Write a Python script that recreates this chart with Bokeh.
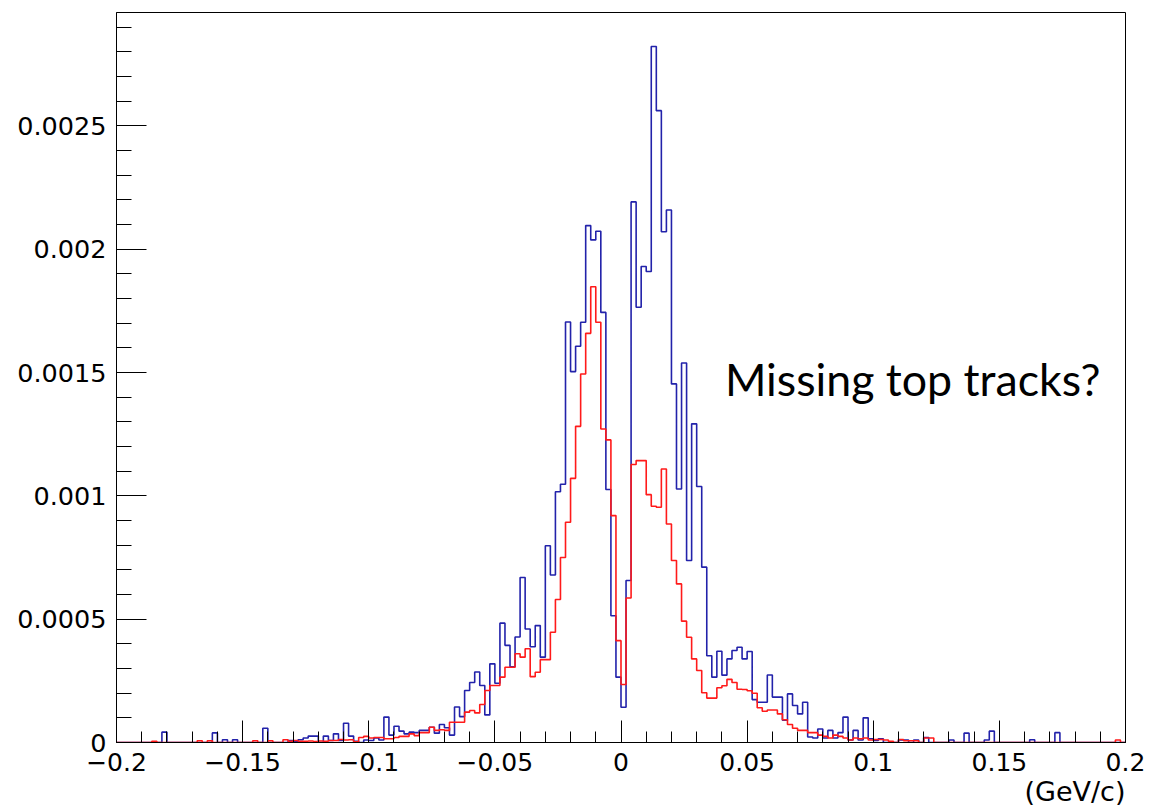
import numpy as np
from bokeh.plotting import figure
from bokeh.models import (Range1d, FixedTicker, CustomJSTickFormatter, Label,
                          ColumnDataSource, Title)
from bokeh.embed import file_html
from bokeh.resources import INLINE

# ---------------- data ----------------
x_min, x_max, n_bins = -0.2, 0.2, 200

# bin contents (200 bins of width 0.002 from -0.2 to 0.2)
blue_counts = [
    0, 0, 0, 0, 0, 0, 0, 0, 0, 0.000042,                                  # 0-9
    0, 0, 0, 0, 0, 0, 0, 0, 0, 0.000039,                                  # 10-19
    0, 0.000011, 0, 0.000011, 0, 0, 0, 0, 0, 0.000058,                    # 20-29
    0, 0, 0, 0, 0.000008, 0.000005, 0.000011, 0.000018, 0.000026, 0.000026,  # 30-39
    0, 0.000026, 0.000008, 0.000035, 0.000008, 0.000078, 0.000026, 0.000005, 0, 0.000010,  # 40-49
    0.000008, 0.000018, 0.000010, 0.000103, 0.000030, 0.000066, 0.000046, 0.000035, 0.000042, 0.000040,  # 50-59
    0.000049, 0.000049, 0.000062, 0.000038, 0.000073, 0.000060, 0.000030, 0.000144, 0.000105, 0.000211,  # 60-69
    0.000243, 0.000286, 0.000231, 0.000112, 0.000319, 0.000240, 0.000484, 0.000394, 0.000307, 0.000428,  # 70-79
    0.000669, 0.000460, 0.000388, 0.000474, 0.000346, 0.000798, 0.000679, 0.001017, 0.001047, 0.001705,  # 80-89
    0.001504, 0.001607, 0.001704, 0.002096, 0.002038, 0.002073, 0.001744, 0.001026, 0.000514, 0.000265,  # 90-99
    0.000143, 0.000657, 0.002192, 0.001765, 0.001930, 0.001910, 0.002822, 0.002562, 0.002071, 0.002159,  # 100-109
    0.001454, 0.001028, 0.001539, 0.000738, 0.001292, 0.001038, 0.000711, 0.000352, 0.000265, 0.000370,  # 110-119
    0.000273, 0.000339, 0.000373, 0.000386, 0.000339, 0.000369, 0.000174, 0.000163, 0.000163, 0.000274,  # 120-129
    0.000184, 0.000184, 0.000090, 0.000197, 0.000150, 0.000116, 0.000163, 0.000022, 0.000018, 0.000055,  # 130-139
    0.000018, 0.000049, 0.000018, 0.000040, 0.000103, 0.000010, 0.000049, 0.000010, 0.000100, 0.000015,  # 140-149
    0.000008, 0.000015, 0, 0, 0, 0.000010, 0.000010, 0, 0.000010, 0,      # 150-159
    0.000020, 0, 0, 0, 0, 0.000010, 0, 0, 0.000038, 0,                    # 160-169
    0, 0, 0.000010, 0.000046, 0, 0, 0, 0, 0, 0,                           # 170-179
    0, 0.000011, 0, 0, 0, 0, 0.000040, 0, 0, 0,                           # 180-189
    0, 0, 0, 0, 0, 0, 0, 0, 0, 0,                                         # 190-199
]

red_counts = [
    0, 0, 0, 0, 0, 0, 0, 0.000005, 0, 0,                                  # 0-9
    0, 0, 0, 0, 0, 0, 0.000007, 0, 0.000007, 0,                           # 10-19
    0, 0, 0, 0, 0, 0, 0, 0.000007, 0, 0,                                  # 20-29
    0.000007, 0, 0, 0.000011, 0.000005, 0.000008, 0.000005, 0.000005, 0.000006, 0.000004,  # 30-39
    0.000006, 0.000005, 0.000008, 0.000008, 0.000012, 0.000010, 0.000011, 0.000003, 0.000020, 0.000025,  # 40-49
    0.000018, 0.000020, 0.000020, 0.000015, 0.000015, 0.000020, 0.000025, 0.000025, 0.000035, 0.000028,  # 50-59
    0.000040, 0.000040, 0.000062, 0.000049, 0.000052, 0.000049, 0.000082, 0.000082, 0.000082, 0.000123,  # 60-69
    0.000130, 0.000120, 0.000154, 0.000211, 0.000231, 0.000231, 0.000265, 0.000305, 0.000305, 0.000360,  # 70-79
    0.000346, 0.000380, 0.000267, 0.000285, 0.000336, 0.000336, 0.000447, 0.000580, 0.000750, 0.000893,  # 80-89
    0.001071, 0.001282, 0.001494, 0.001659, 0.001848, 0.001704, 0.001271, 0.001227, 0.000920, 0.000413,  # 90-99
    0.000235, 0.000586, 0.001127, 0.001143, 0.001143, 0.001005, 0.000958, 0.000954, 0.001109, 0.000886,  # 100-109
    0.000738, 0.000643, 0.000492, 0.000427, 0.000339, 0.000292, 0.000202, 0.000180, 0.000180, 0.000222,  # 110-119
    0.000230, 0.000256, 0.000243, 0.000216, 0.000215, 0.000210, 0.000200, 0.000141, 0.000127, 0.000132,  # 120-129
    0.000132, 0.000116, 0.000092, 0.000073, 0.000058, 0.000049, 0.000049, 0.000040, 0.000040, 0.000030,  # 130-139
    0.000025, 0.000018, 0.000030, 0.000025, 0.000018, 0.000010, 0.000018, 0.000015, 0.000018, 0.000010,  # 140-149
    0.000012, 0.000012, 0.000010, 0.000005, 0, 0.000012, 0.000007, 0.000007, 0.000007, 0,  # 150-159
    0.000018, 0.000018, 0, 0, 0, 0, 0, 0, 0, 0,                           # 160-169
    0, 0, 0, 0, 0, 0, 0, 0, 0, 0,                                         # 170-179
    0, 0, 0, 0, 0, 0, 0, 0, 0, 0,                                         # 180-189
    0, 0, 0, 0, 0, 0, 0, 0, 0.000010, 0,                                  # 190-199
]

x_tick_values = [-0.2, -0.15, -0.1, -0.05, 0.0, 0.05, 0.1, 0.15, 0.2]
x_tick_labels = ["\u22120.2", "\u22120.15", "\u22120.1", "\u22120.05", "0",
                 "0.05", "0.1", "0.15", "0.2"]
y_tick_values = [0.0, 0.0005, 0.001, 0.0015, 0.002, 0.0025]
y_tick_labels = ["0", "0.0005", "0.001", "0.0015", "0.002", "0.0025"]
x_unit_label = "(GeV/c)"
note_text = "Missing top tracks?"
note_pos = (0.0412, 0.001475)

# ---------------- figure ----------------
edges = np.linspace(x_min, x_max, n_bins + 1)
src_blue = ColumnDataSource(dict(x=edges, y=list(blue_counts) + [blue_counts[-1]]))
src_red = ColumnDataSource(dict(x=edges, y=list(red_counts) + [red_counts[-1]]))

p = figure(frame_width=1009, frame_height=730,
           x_range=Range1d(x_min, x_max), y_range=Range1d(0, 0.00296),
           output_backend="svg", toolbar_location=None,
           min_border_left=116, min_border_right=24,
           min_border_top=12, min_border_bottom=68)
p.xgrid.visible = False
p.ygrid.visible = False
p.outline_line_color = "black"
p.outline_line_width = 1
p.outline_line_alpha = 1
p.background_fill_color = "white"
p.border_fill_color = "white"

p.step("x", "y", source=src_blue, mode="after", line_color="#2222aa", line_width=1.6)
p.step("x", "y", source=src_red, mode="after", line_color="#ff1a1a", line_width=1.6)

fmt_code = """
let best = 0; let d = Infinity;
for (let i = 0; i < vals.length; i++) {
  const e = Math.abs(vals[i] - tick);
  if (e < d) { d = e; best = i; }
}
return labs[best];
"""

x_minor = [round(x_min + 0.01 * k, 4) for k in range(41)]
y_minor = [round(0.0001 * k, 6) for k in range(30)]

p.xaxis.ticker = FixedTicker(ticks=x_tick_values, minor_ticks=x_minor)
p.xaxis.formatter = CustomJSTickFormatter(args=dict(vals=x_tick_values, labs=x_tick_labels), code=fmt_code)
p.yaxis.ticker = FixedTicker(ticks=y_tick_values, minor_ticks=y_minor)
p.yaxis.formatter = CustomJSTickFormatter(args=dict(vals=y_tick_values, labs=y_tick_labels), code=fmt_code)

for ax in (p.xaxis, p.yaxis):
    ax.axis_line_color = "black"
    ax.major_tick_line_color = "black"
    ax.minor_tick_line_color = "black"
    ax.major_tick_out = 0
    ax.minor_tick_out = 0
    ax.major_label_text_font = "DejaVu Sans"
    ax.major_label_text_color = "black"

p.xaxis.major_label_standoff = 10
p.yaxis.major_label_standoff = 10
p.xaxis.major_tick_in = 22
p.xaxis.minor_tick_in = 11
p.xaxis.major_label_text_font_size = "25px"
p.yaxis.major_tick_in = 30
p.yaxis.minor_tick_in = 15
p.yaxis.major_label_text_font_size = "25.5px"

p.add_layout(Title(text=x_unit_label, align="right", text_font="DejaVu Sans",
                   text_font_size="27px", text_font_style="normal",
                   text_color="black", standoff=0, offset=0), "below")

p.add_layout(Label(x=note_pos[0], y=note_pos[1], text=note_text, text_font="Lato",
                   text_font_size="44.7px", text_align="left", text_baseline="alphabetic",
                   text_color="black"))

open("out.html", "w").write(file_html(p, INLINE))
